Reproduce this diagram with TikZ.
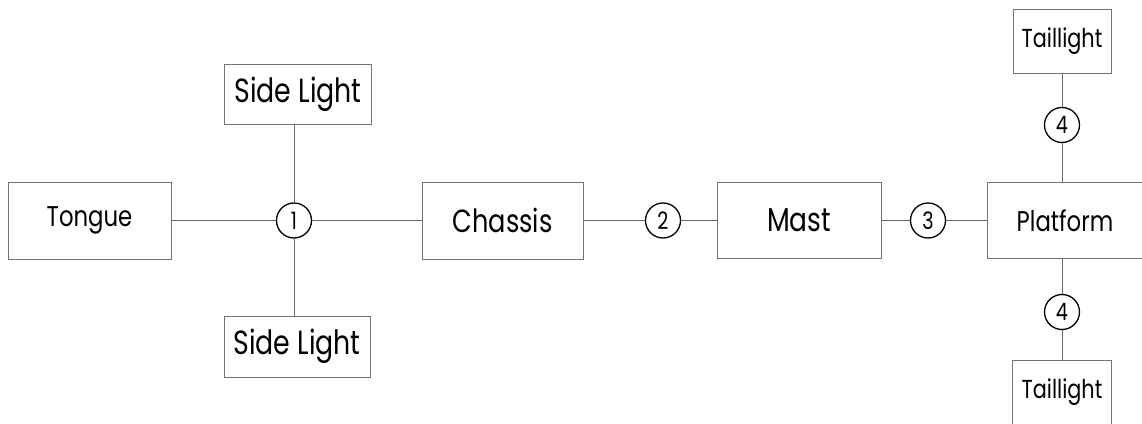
\documentclass[tikz,border=0pt]{standalone}
\usepackage{fontspec}
\setmainfont{Poppins}
\newfontfamily\partfont[FakeStretch=0.8]{Poppins}
\usepackage{tikz}
\usetikzlibrary{positioning}
\newcommand{\partsize}[1]{\partfont\fontsize{#1}{#1}\selectfont}
\tikzset{
  part/.style={rectangle,draw=black!55,line width=0.9pt,align=center,
    font=\partsize{28.5},inner sep=0pt},
  joint/.style={circle,draw=black,line width=1.3pt,minimum size=35pt,inner sep=0pt,
    font=\partsize{24}},
  link/.style={draw=black!60,line width=0.9pt},
}

\begin{document}
\begin{tikzpicture}[x=1pt,y=1pt]
  \useasboundingbox (0,0) rectangle (1142,423);
  \clip (0,0) rectangle (1142,423);

  \node[part,minimum width=163pt,minimum height=77pt] (tongue) at (89.5,202.5) {Tongue};
  \node[joint] (j1) at (294,202.5) {1};
  \node[part,minimum width=147pt,minimum height=60pt,font=\partsize{33.5}] (sidetop) at (298,329) {Side Light};
  \node[part,minimum width=146pt,minimum height=61pt,font=\partsize{33.5}] (sidebot) at (297,76.5) {Side Light};
  \node[part,minimum width=161pt,minimum height=77pt,font=\partsize{32}] (chassis) at (502.5,202.5) {Chassis};
  \node[joint] (j2) at (663,202.5) {2};
  \node[part,minimum width=164pt,minimum height=76pt,font=\partsize{33}] (mast) at (799,202.5) {Mast};
  \node[joint] (j3) at (928,202.5) {3};
  \node[part,minimum width=156pt,minimum height=76pt] (platform) at (1065,202.5) {Platform};
  \node[joint] (j4a) at (1062,298) {4};
  \node[joint] (j4b) at (1062,111) {4};
  \node[part,minimum width=98pt,minimum height=64pt,font=\partsize{26}] (tailtop) at (1062,382) {Taillight};
  \node[part,minimum width=99pt,minimum height=64pt,font=\partsize{26}] (tailbot) at (1062,31) {Taillight};

  \draw[link] (tongue) -- (j1);
  \draw[link] (j1) -- (chassis);
  \draw[link] (j1) -- (j1 |- sidetop.south);
  \draw[link] (j1) -- (j1 |- sidebot.north);
  \draw[link] (chassis) -- (j2);
  \draw[link] (j2) -- (mast);
  \draw[link] (mast) -- (j3);
  \draw[link] (j3) -- (platform);
  \draw[link] (platform.north -| j4a) -- (j4a);
  \draw[link] (j4a) -- (tailtop);
  \draw[link] (platform.south -| j4b) -- (j4b);
  \draw[link] (j4b) -- (tailbot);
\end{tikzpicture}
\end{document}
